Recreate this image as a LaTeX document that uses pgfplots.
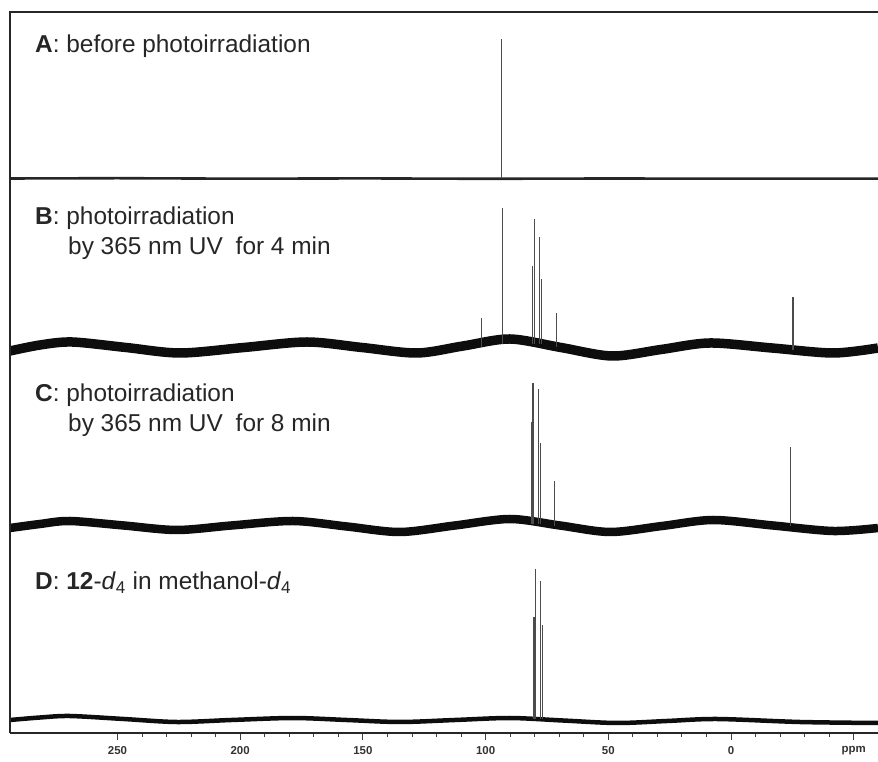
\documentclass[border=0pt]{standalone}
\usepackage{fontspec}
\setmainfont{Liberation Sans}
\setsansfont{Liberation Sans}
\usepackage{pgfplots}
\pgfplotsset{compat=1.18}
\begin{document}
\begin{tikzpicture}
\path[use as bounding box, clip] (0,0) rectangle (878bp,762bp);
\begin{axis}[
  at={(10bp,29bp)}, anchor=south west,
  width=868bp, height=721bp, scale only axis,
  xmin=-59.9, xmax=293.8, x dir=reverse,
  ymin=29, ymax=750,
  axis x line=bottom, axis y line=none,
  axis line style={-, line width=1.1bp, black!85},
  xtick={-50,0,50,100,150,200,250},
  xticklabels={ppm,0,50,100,150,200,250},
  minor x tick num=4,
  tick align=outside,
  major tick length=7bp, minor tick length=3.5bp,
  every tick/.style={black!75, line width=0.9bp},
  ytick=\empty,
  xticklabel style={font=\bfseries\fontsize{11.5}{12}\selectfont, text=black!80, yshift=-3bp},
  /pgf/number format/assume math mode=true,
  unbounded coords=jump,
]
% A baseline
\addplot[no marks, black!85, line width=2.6bp] coordinates {
(293.8,583.5) (250,583.8) (200,583.3) (150,583.6) (100,583.2) (50,583.5) (0,583.3) (-59.9,583.4)};
% B baseline
\addplot[no marks, black!95, line width=9.5bp, smooth, tension=0.5] coordinates {
(293.8,411) (281.6,417) (268.5,420) (246.5,414.5) (224.5,409) (198.5,414.5) (172.8,420)
(150.4,414.5) (128.0,409) (109.2,416) (90.1,423) (69.3,414.5) (48.5,406) (28.5,412.5)
(8.6,419) (-16.7,414) (-41.6,409) (-59.9,414)};
% C baseline
\addplot[no marks, black!95, line width=8.5bp, smooth, tension=0.5] coordinates {
(293.8,234) (281.6,238) (269.4,241) (247.4,236.5) (225.8,232) (203.6,236.5) (178.5,241)
(156.5,235.5) (134.9,230) (112.5,236.5) (90.1,243) (69.7,236.5) (49.3,230) (28.1,236)
(7.3,242) (-17.1,236.5) (-41.6,231) (-59.9,234)};
% D baseline
\addplot[no marks, black!95, line width=4.5bp, smooth, tension=0.5] coordinates {
(293.8,42) (281.6,44.5) (269.4,46) (247.4,43) (225.8,40) (203.6,42) (178.5,44)
(156.5,42) (134.9,40) (112.5,42) (90.1,44) (68.5,41.5) (46.5,39) (26.1,41)
(5.7,43) (-28.1,40) (-59.9,39)};
% A peaks
\addplot[no marks, black!70, line width=1.4bp] coordinates {
(93.4,583.5) (93.4,722.7)};
% B peaks
\addplot[no marks, black!70, line width=1.3bp] coordinates {
(101.6,415) (101.6,444) (nan,nan)
(93.2,418) (93.2,554) (nan,nan)
(80.8,418) (80.8,496) (nan,nan)
(80.1,418) (80.1,543) (nan,nan)
(78.0,418) (78.0,525) (nan,nan)
(77.1,418) (77.1,483) (nan,nan)
(71.0,415) (71.0,449) (nan,nan)
(-25.3,412) (-25.3,465)};
% C peaks
\addplot[no marks, black!70, line width=1.3bp] coordinates {
(81.2,238) (81.2,340.3) (nan,nan)
(80.7,238) (80.7,379) (nan,nan)
(78.4,238) (78.4,373.3) (nan,nan)
(77.7,238) (77.7,319) (nan,nan)
(71.8,236) (71.8,281.3) (nan,nan)
(-24.3,236) (-24.3,315.3)};
% D peaks
\addplot[no marks, black!70, line width=1.3bp] coordinates {
(80.3,43) (80.3,145.3) (nan,nan)
(79.7,43) (79.7,193.3) (nan,nan)
(77.7,43) (77.7,181) (nan,nan)
(76.7,43) (76.7,137)};
\end{axis}
\draw[black!85, line width=1.4bp] (10bp,29bp) -- (10bp,750bp) -- (878bp,750bp);
\begin{scope}[every node/.style={anchor=base west, inner sep=0pt, text=black!85, font=\fontsize{24.5}{28}\selectfont}]
\node at (35bp,709bp) {\textbf{A}: before photoirradiation};
\node at (35bp,537bp) {\textbf{B}: photoirradiation};
\node at (68bp,507bp) {by 365 nm UV\hspace{0.25em} for 4 min};
\node at (35bp,360bp) {\textbf{C}: photoirradiation};
\node at (68bp,330bp) {by 365 nm UV\hspace{0.25em} for 8 min};
\node at (35bp,172bp) {\textbf{D}: \textbf{12}-\textit{d}\textsubscript{4} in methanol-\textit{d}\textsubscript{4}};
\end{scope}
\end{tikzpicture}
\end{document}
